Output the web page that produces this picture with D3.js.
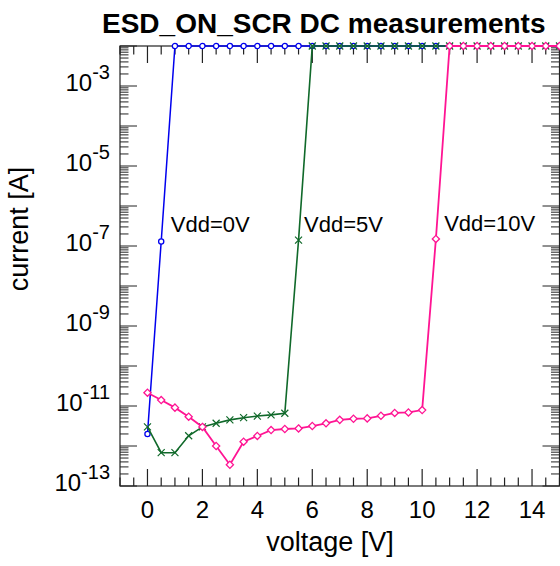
<!DOCTYPE html>
<html>
<head>
<meta charset="utf-8">
<script src="https://cdn.jsdelivr.net/npm/d3@7"></script>
<style>
  body { margin: 0; background: #fff; }
  svg { display: block; font-family: "Liberation Sans", Arial, sans-serif; }
</style>
</head>
<body>
<svg id="chart"></svg>
<script>
// Sweep voltages (V) and measured currents (A) for each Vdd setting
const voltages = [0, 0.5, 1, 1.5, 2, 2.5, 3, 3.5, 4, 4.5, 5, 5.5, 6, 6.5, 7, 7.5,
                  8, 8.5, 9, 9.5, 10, 10.5, 11, 11.5, 12, 12.5, 13, 13.5, 14, 14.5, 15];
const vdd0Current = [2.0e-12, 1.3e-7, 1e-2, 1e-2, 1e-2, 1e-2, 1e-2, 1e-2, 1e-2, 1e-2, 1e-2,
                     1e-2, 1e-2, 1e-2, 1e-2, 1e-2, 1e-2, 1e-2, 1e-2, 1e-2, 1e-2,
                     1e-2, 1e-2, 1e-2, 1e-2, 1e-2, 1e-2, 1e-2, 1e-2, 1e-2, 1e-2];
const vdd5Current = [3.0e-12, 6.8e-13, 6.8e-13, 1.8e-12, 3.0e-12, 3.7e-12, 4.5e-12, 5.1e-12,
                     5.6e-12, 6.0e-12, 6.6e-12, 1.4e-7, 1e-2, 1e-2, 1e-2, 1e-2, 1e-2, 1e-2,
                     1e-2, 1e-2, 1e-2, 1e-2, 1e-2, 1e-2, 1e-2, 1e-2, 1e-2, 1e-2, 1e-2, 1e-2, 1e-2];
const vdd10Current = [2.15e-11, 1.41e-11, 9.1e-12, 5.4e-12, 3.0e-12, 1.0e-12, 3.4e-13, 1.28e-12,
                      1.78e-12, 2.5e-12, 2.66e-12, 2.75e-12, 3.16e-12, 3.7e-12, 4.5e-12, 4.8e-12,
                      4.9e-12, 5.7e-12, 6.7e-12, 6.9e-12, 7.9e-12, 1.5e-7, 1e-2, 1e-2, 1e-2,
                      1e-2, 1e-2, 1e-2, 1e-2, 1e-2, 1e-2];
const seriesLabels = ["Vdd=0V", "Vdd=5V", "Vdd=10V"];
const labelVoltages = [0.85, 5.7, 10.8];   // where each label text starts
const labelCurrents = [2.2e-7, 2.3e-7, 2.4e-7];
const xTickValues = [0, 2, 4, 6, 8, 10, 12, 14];
const yLabelExponents = [-3, -5, -7, -9, -11, -13];

document.addEventListener("DOMContentLoaded", function () {
    // Plot frame inside the 560x566 canvas
    const margin = { top: 46, right: 0.5, bottom: 80, left: 120 };
    const fullWidth = 560, fullHeight = 566;
    const width = fullWidth - margin.left - margin.right;
    const height = fullHeight - margin.top - margin.bottom;

    const svg = d3.select("#chart")
        .attr("width", fullWidth)
        .attr("height", fullHeight);

    const xScale = d3.scaleLinear().domain([-1, 15]).range([0, width]);
    const yScale = d3.scaleLog().domain([1e-13, 1e-2]).range([height, 0]);

    const g = svg.append("g")
        .attr("transform", `translate(${margin.left},${margin.top})`);

    drawFrame(g, xScale, yScale, width, height);

    const series = [
        { name: seriesLabels[0], values: vdd0Current, color: "#0000ee", marker: "circle", lw: 1.5 },
        { name: seriesLabels[1], values: vdd5Current, color: "#10692a", marker: "cross", lw: 1.6 },
        { name: seriesLabels[2], values: vdd10Current, color: "#ff1493", marker: "diamond", lw: 1.8 }
    ];

    series.forEach((s, i) => {
        drawSeries(g, s, xScale, yScale);
        g.append("text")
            .attr("x", xScale(labelVoltages[i]))
            .attr("y", yScale(labelCurrents[i]))
            .attr("font-size", "22px")
            .attr("fill", "#000")
            .text(s.name);
    });

    // Title and axis titles
    svg.append("text")
        .attr("x", 102).attr("y", 33)
        .attr("font-size", "28px").attr("font-weight", "bold")
        .text("ESD_ON_SCR DC measurements");

    svg.append("text")
        .attr("x", 330).attr("y", 551)
        .attr("text-anchor", "middle")
        .attr("font-size", "27px")
        .text("voltage [V]");

    svg.append("text")
        .attr("transform", "translate(28,229) rotate(-90)")
        .attr("text-anchor", "middle")
        .attr("font-size", "27px")
        .text("current [A]");
});

// Draws the box with inward ticks on all four sides plus tick labels
function drawFrame(g, xScale, yScale, width, height) {
    const frameColor = "#222";
    const majorLen = 17, minorLen = 8.5;

    g.append("rect")
        .attr("width", width).attr("height", height)
        .attr("fill", "none").attr("stroke", frameColor).attr("stroke-width", 1.2);

    // voltage ticks every 0.5 V, long ones at even volts
    const xMinor = d3.range(-1, 15.01, 0.5);
    xMinor.forEach(v => {
        const len = (Math.abs(v % 2) < 1e-9) ? majorLen : minorLen;
        const x = xScale(v);
        g.append("line").attr("x1", x).attr("x2", x).attr("y1", height).attr("y2", height - len)
            .attr("stroke", frameColor).attr("stroke-width", 1.2);
        g.append("line").attr("x1", x).attr("x2", x).attr("y1", 0).attr("y2", len)
            .attr("stroke", frameColor).attr("stroke-width", 1.2);
    });

    // log ticks: long at each decade, short at 2..9
    const [lo, hi] = yScale.domain().map(Math.log10);
    for (let e = lo; e <= hi; e++) {
        for (let k = 1; k <= 9; k++) {
            const val = k * Math.pow(10, e);
            if (val > Math.pow(10, hi) * 1.0001) break;
            const y = yScale(val);
            const len = k === 1 ? majorLen : minorLen;
            g.append("line").attr("x1", 0).attr("x2", len).attr("y1", y).attr("y2", y)
                .attr("stroke", frameColor).attr("stroke-width", 1);
            g.append("line").attr("x1", width).attr("x2", width - len).attr("y1", y).attr("y2", y)
                .attr("stroke", frameColor).attr("stroke-width", 1);
        }
    }

    // x tick labels
    g.selectAll(".xlabel")
        .data(xTickValues)
        .enter().append("text")
        .attr("class", "xlabel")
        .attr("x", d => xScale(d))
        .attr("y", height + 32)
        .attr("text-anchor", "middle")
        .attr("font-size", "24px")
        .text(d => d);

    // y tick labels as 10 with a superscript exponent
    yLabelExponents.forEach(exp => {
        const t = g.append("text")
            .attr("x", -10)
            .attr("y", yScale(Math.pow(10, exp)) + 5)
            .attr("text-anchor", "end")
            .attr("font-size", "24px");
        t.append("tspan").text("10");
        t.append("tspan").attr("dy", -12).attr("font-size", "20px").text(String(exp));
    });
}

// Draws one measured curve with its markers
function drawSeries(g, s, xScale, yScale) {
    const points = voltages.map((v, i) => ({ v, c: s.values[i] })).filter(d => d.c !== undefined);

    const line = d3.line().x(d => xScale(d.v)).y(d => yScale(d.c));
    g.append("path")
        .datum(points)
        .attr("d", line)
        .attr("fill", "none")
        .attr("stroke", s.color)
        .attr("stroke-width", s.lw);

    const markers = g.selectAll(null).data(points).enter();
    if (s.marker === "circle") {
        markers.append("circle")
            .attr("cx", d => xScale(d.v)).attr("cy", d => yScale(d.c))
            .attr("r", 2.6)
            .attr("fill", "#fff").attr("stroke", s.color).attr("stroke-width", 1.3);
    } else if (s.marker === "cross") {
        const r = 3.5;
        markers.append("path")
            .attr("d", d => {
                const x = xScale(d.v), y = yScale(d.c);
                return `M${x - r},${y - r}L${x + r},${y + r}M${x - r},${y + r}L${x + r},${y - r}`;
            })
            .attr("stroke", s.color).attr("stroke-width", 1.2).attr("fill", "none");
    } else {
        const r = 3.6;
        markers.append("path")
            .attr("d", d => {
                const x = xScale(d.v), y = yScale(d.c);
                return `M${x},${y - r}L${x + r},${y}L${x},${y + r}L${x - r},${y}Z`;
            })
            .attr("fill", "#fff").attr("stroke", s.color).attr("stroke-width", 1.3);
    }
}
</script>
</body>
</html>
